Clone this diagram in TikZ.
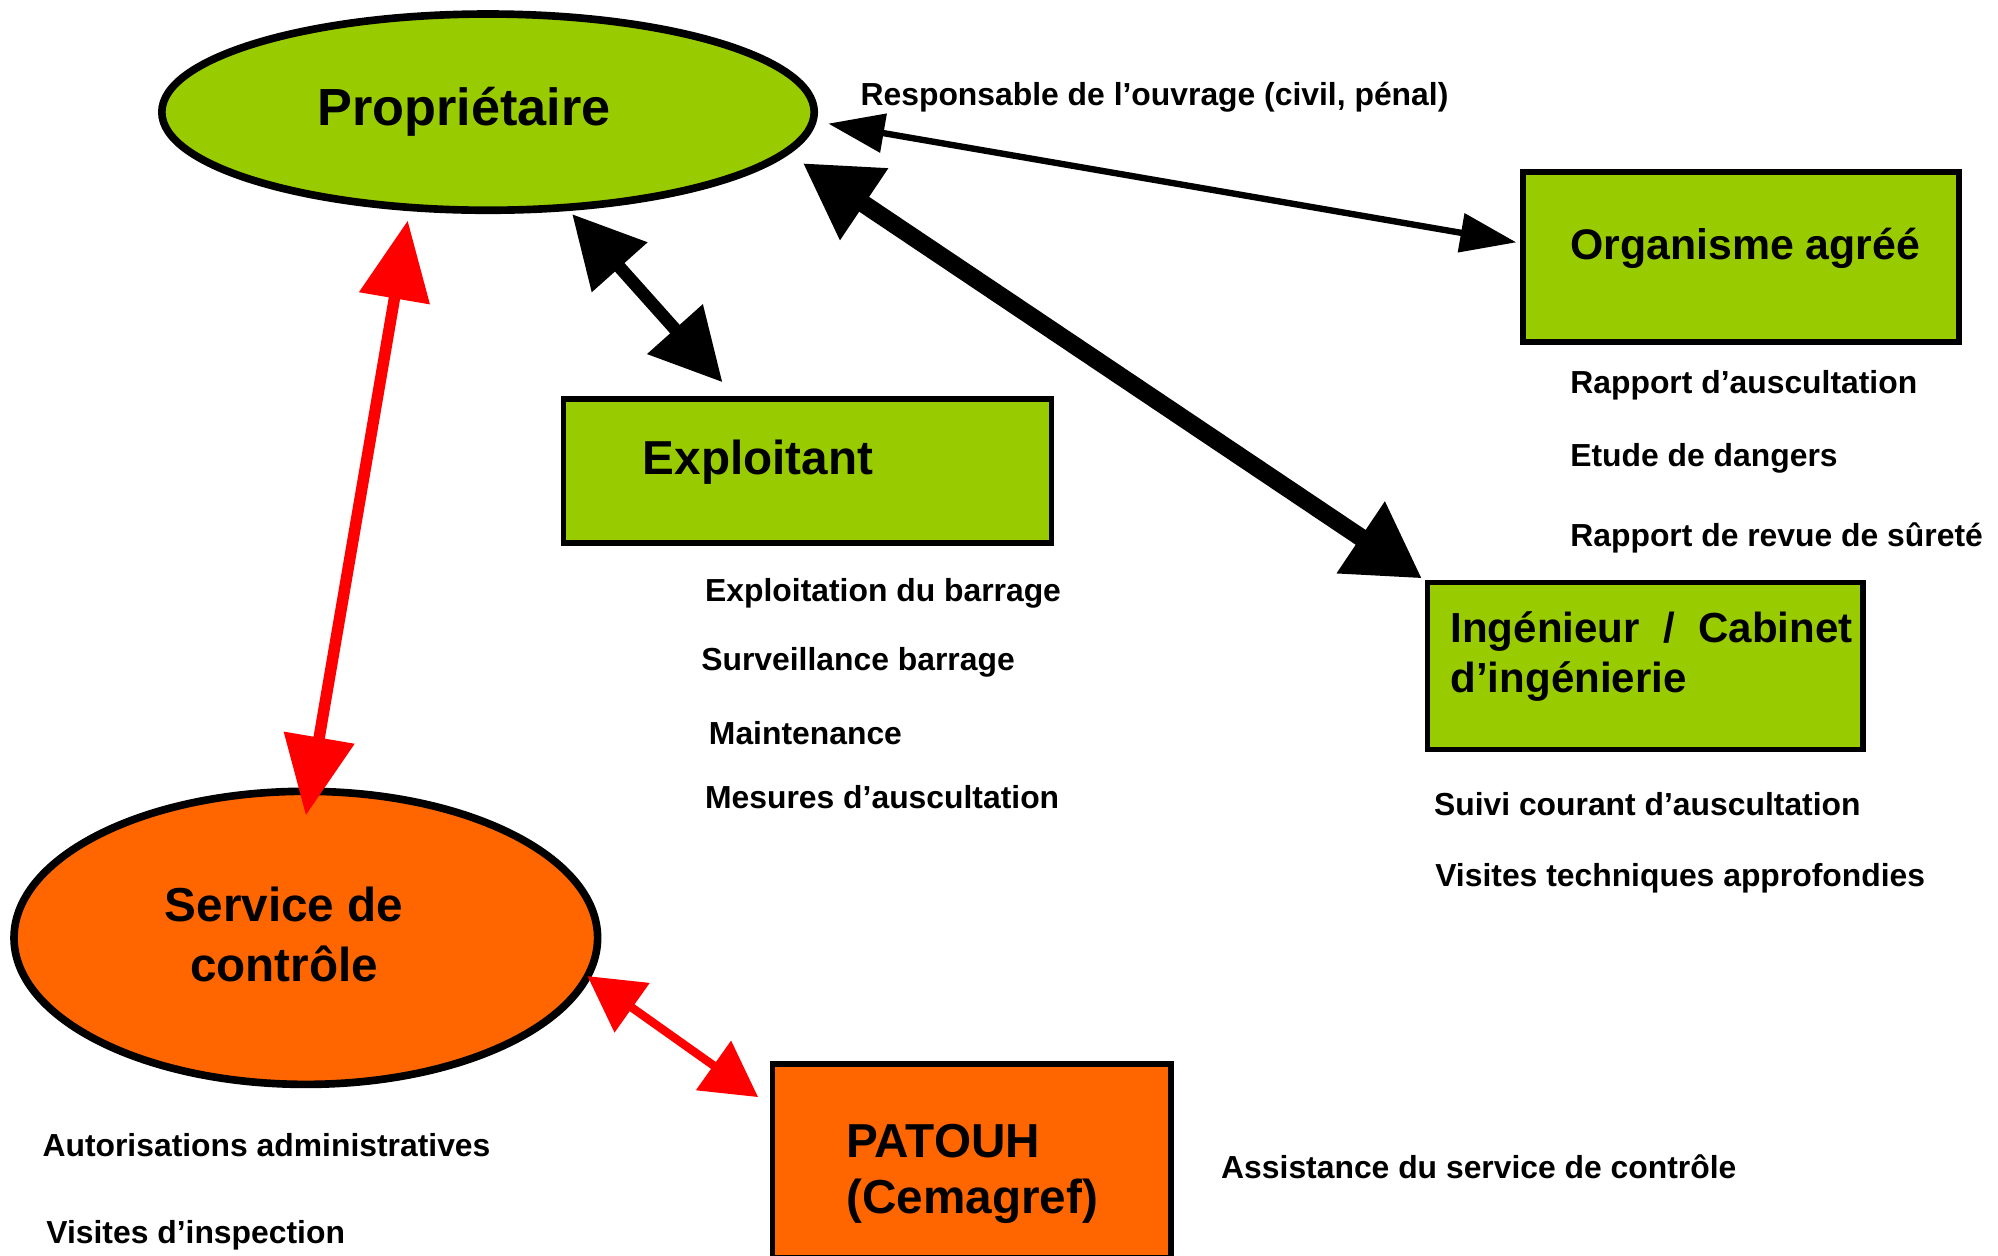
\documentclass[tikz,border=0pt]{standalone}
\usepackage{fontspec}
\setmainfont{Liberation Sans}
\usetikzlibrary{shapes.geometric,arrows.meta,calc}
\definecolor{vert}{HTML}{99CC00}
\definecolor{orng}{HTML}{FF6600}
\definecolor{rouge}{HTML}{FF0000}
\begin{document}
\begin{tikzpicture}[x=0.5pt,y=-0.5pt,
  ell/.style={ellipse,draw=black,line width=3pt,inner sep=0pt},
  boxn/.style={rectangle,draw=black,line width=2.2pt,inner sep=0pt,anchor=north west},
  big/.style={inner sep=0pt,yshift=-1.5pt,font=\fontsize{18.7}{23}\selectfont\bfseries},
  small/.style={inner sep=0pt,yshift=-1.2pt,anchor=west,font=\fontsize{12.5}{15}\selectfont\bfseries}]
\useasboundingbox (0,0) rectangle (1568,985);
% main shapes
\node[ell,fill=vert,minimum width=256pt,minimum height=77pt] (prop) at (383,88) {};
\node[ell,fill=orng,minimum width=229pt,minimum height=115pt] (serv) at (240,736) {};
\node[boxn,fill=vert,minimum width=171pt,minimum height=66.5pt] (org) at (1193,133) {};
\node[boxn,fill=vert,minimum width=191.5pt,minimum height=56.5pt] (exp) at (440,311) {};
\node[boxn,fill=vert,minimum width=171pt,minimum height=65.5pt] (ing) at (1118,455) {};
\node[boxn,fill=orng,minimum width=156.5pt,minimum height=76pt] (pat) at (604,833) {};
% titles
\node[big,font=\fontsize{20.5}{24}\selectfont\bfseries] (propt) at (364,85) {Propriétaire};
\node[big,anchor=west,font=\fontsize{16.8}{20}\selectfont\bfseries] (orgt) at (1232,192) {Organisme agréé};
\node[big,anchor=west] (expt) at (504,360) {Exploitant};
\node[big,anchor=west,align=left,font=\fontsize{16.5}{19.5}\selectfont\bfseries] (ingt) at (1138,512) {Ingénieur~~/~~Cabinet\\d’ingénierie};
\node[big,align=center,font=\fontsize{18.7}{23.5}\selectfont\bfseries] (servt) at (223,730) {Service de\\contrôle};
\node[big,anchor=west,align=left,font=\fontsize{18.7}{22}\selectfont\bfseries] (patt) at (664,918) {PATOUH\\(Cemagref)};
% labels
\node[small] (l1) at (675,74) {Responsable de l’ouvrage (civil, pénal)};
\node[small] (l2) at (1232,300) {Rapport d’auscultation};
\node[small] (l3) at (1232,357) {Etude de dangers};
\node[small] (l4) at (1232,420) {Rapport de revue de sûreté};
\node[small] (l5) at (553,463) {Exploitation du barrage};
\node[small] (l6) at (550,517) {Surveillance barrage};
\node[small] (l7) at (556,573) {Maintenance};
\node[small] (l8) at (553,623) {Mesures d’auscultation};
\node[small] (l9) at (1125,629) {Suivi courant d’auscultation};
\node[small] (l10) at (1126,687) {Visites techniques approfondies};
\node[small] (l11) at (33,896) {Autorisations administratives};
\node[small] (l12) at (36,967) {Visites d’inspection};
\node[small] (l13) at (958,913) {Assistance du service de contrôle};
% connector ends
\coordinate (a1) at ($(prop.center)+(267,9)$);
\coordinate (b1) at ($(org.west)+(-3,-11.5)$);
\coordinate (a2) at ($(prop.center)+(247,40)$);
\coordinate (b2) at ($(ing.north west)+(-2,-1)$);
\coordinate (a3) at ($(prop.center)+(66,80)$);
\coordinate (b3) at ($(exp.north west)+(127,-11)$);
\coordinate (a4) at ($(prop.center)+(-63,85)$);
\coordinate (b4) at ($(serv.center)+(0,-96)$);
\coordinate (a5) at ($(serv.center)+(221,30)$);
\coordinate (b5) at ($(pat.north west)+(-9,28)$);
% connectors
\draw[line width=2.5pt,{Triangle[length=22pt,width=15pt]}-{Triangle[length=22pt,width=15pt]}] (a1) -- (b1);
\draw[line width=7pt,{Triangle[length=29pt,width=32pt]}-{Triangle[length=29pt,width=32pt]}] (a2) -- (b2);
\draw[line width=5pt,{Triangle[length=28pt,width=28pt]}-{Triangle[length=28pt,width=28pt]}] (a3) -- (b3);
\draw[rouge,line width=4.5pt,{Triangle[length=31pt,width=27pt]}-{Triangle[length=31pt,width=27pt]}] (a4) -- (b4);
\draw[rouge,line width=3.3pt,{Triangle[length=21.5pt,width=23pt]}-{Triangle[length=21.5pt,width=23pt]}] (a5) -- (b5);
\end{tikzpicture}
\end{document}
